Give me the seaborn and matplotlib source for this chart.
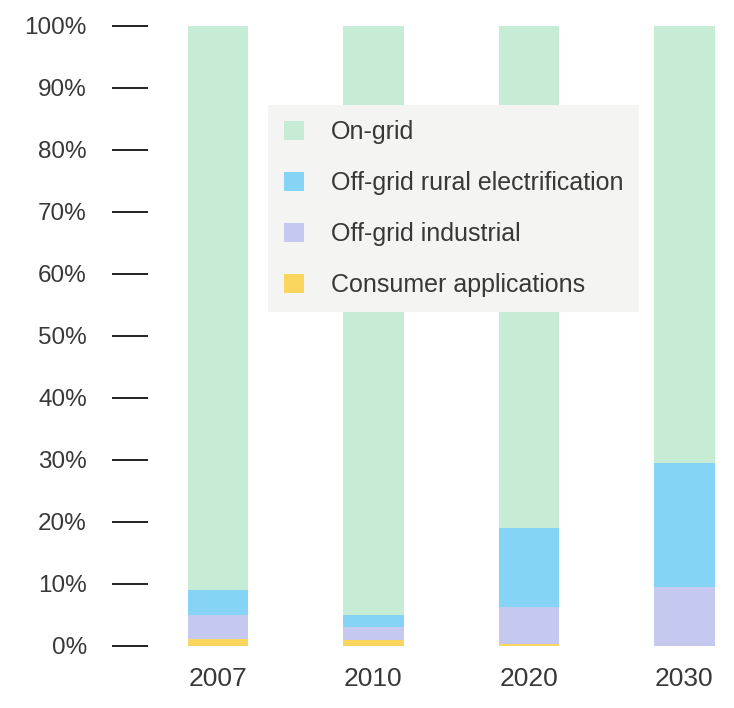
import matplotlib
matplotlib.use("Agg")
import matplotlib.pyplot as plt
from matplotlib.patches import Patch
import seaborn as sns
import pandas as pd

years = ["2007", "2010", "2020", "2030"]
consumer = [1.2, 1.0, 0.4, 0.0]
industrial = [3.8, 2.1, 5.9, 9.5]
rural = [4.0, 1.9, 12.7, 20.0]
on_grid = [91.0, 95.0, 81.0, 70.5]

series_names = ["On-grid", "Off-grid rural electrification",
                "Off-grid industrial", "Consumer applications"]
colors = {"On-grid": "#c6ecd6",
          "Off-grid rural electrification": "#86d4f5",
          "Off-grid industrial": "#c5c9ef",
          "Consumer applications": "#fbd65e"}

sns.set_theme(style="white")
plt.rcParams["font.family"] = ["Liberation Sans", "DejaVu Sans"]
text_color = "#383838"

fig = plt.figure(figsize=(7.34, 7.08), dpi=100)
ax = fig.add_axes([148 / 734, 62 / 708, 583 / 734, 620 / 708])

# stack from the bottom up
stack = [("Consumer applications", consumer),
         ("Off-grid industrial", industrial),
         ("Off-grid rural electrification", rural),
         ("On-grid", on_grid)]
base = [0.0] * len(years)
for name, vals in stack:
    df = pd.DataFrame({"year": years, "share": vals})
    sns.barplot(data=df, x="year", y="share", color=colors[name],
                bottom=base, width=0.39, linewidth=0, saturation=1,
                ax=ax)
    base = [b + v for b, v in zip(base, vals)]

ax.set_xlim(-0.45, 3.3)
ax.set_ylim(0, 100)
ax.set_yticks(range(0, 101, 10))
ax.set_yticklabels([f"{v}%" for v in range(0, 101, 10)])
ax.set_xlabel("")
ax.set_ylabel("")
for s in ax.spines.values():
    s.set_visible(False)
ax.tick_params(axis="y", direction="out", length=26, width=1.4,
               color="#222222", pad=18, labelsize=17.5, labelcolor=text_color,
               left=True)
ax.tick_params(axis="x", length=0, pad=15, labelsize=19,
               labelcolor=text_color)

handles = [Patch(facecolor=colors[n], edgecolor="none") for n in series_names]
leg = fig.legend(handles, series_names, loc="upper left",
                 bbox_to_anchor=(268 / 734, 1 - 105 / 708),
                 frameon=True, fontsize=18, labelspacing=1.07,
                 handlelength=0.8, handleheight=0.8, handletextpad=1.1,
                 borderpad=0.62, borderaxespad=0, fancybox=False)
frame = leg.get_frame()
frame.set_facecolor("#f4f4f2")
frame.set_edgecolor("none")
frame.set_alpha(1)
for t in leg.get_texts():
    t.set_color(text_color)

fig.savefig("out.png", dpi=100)
